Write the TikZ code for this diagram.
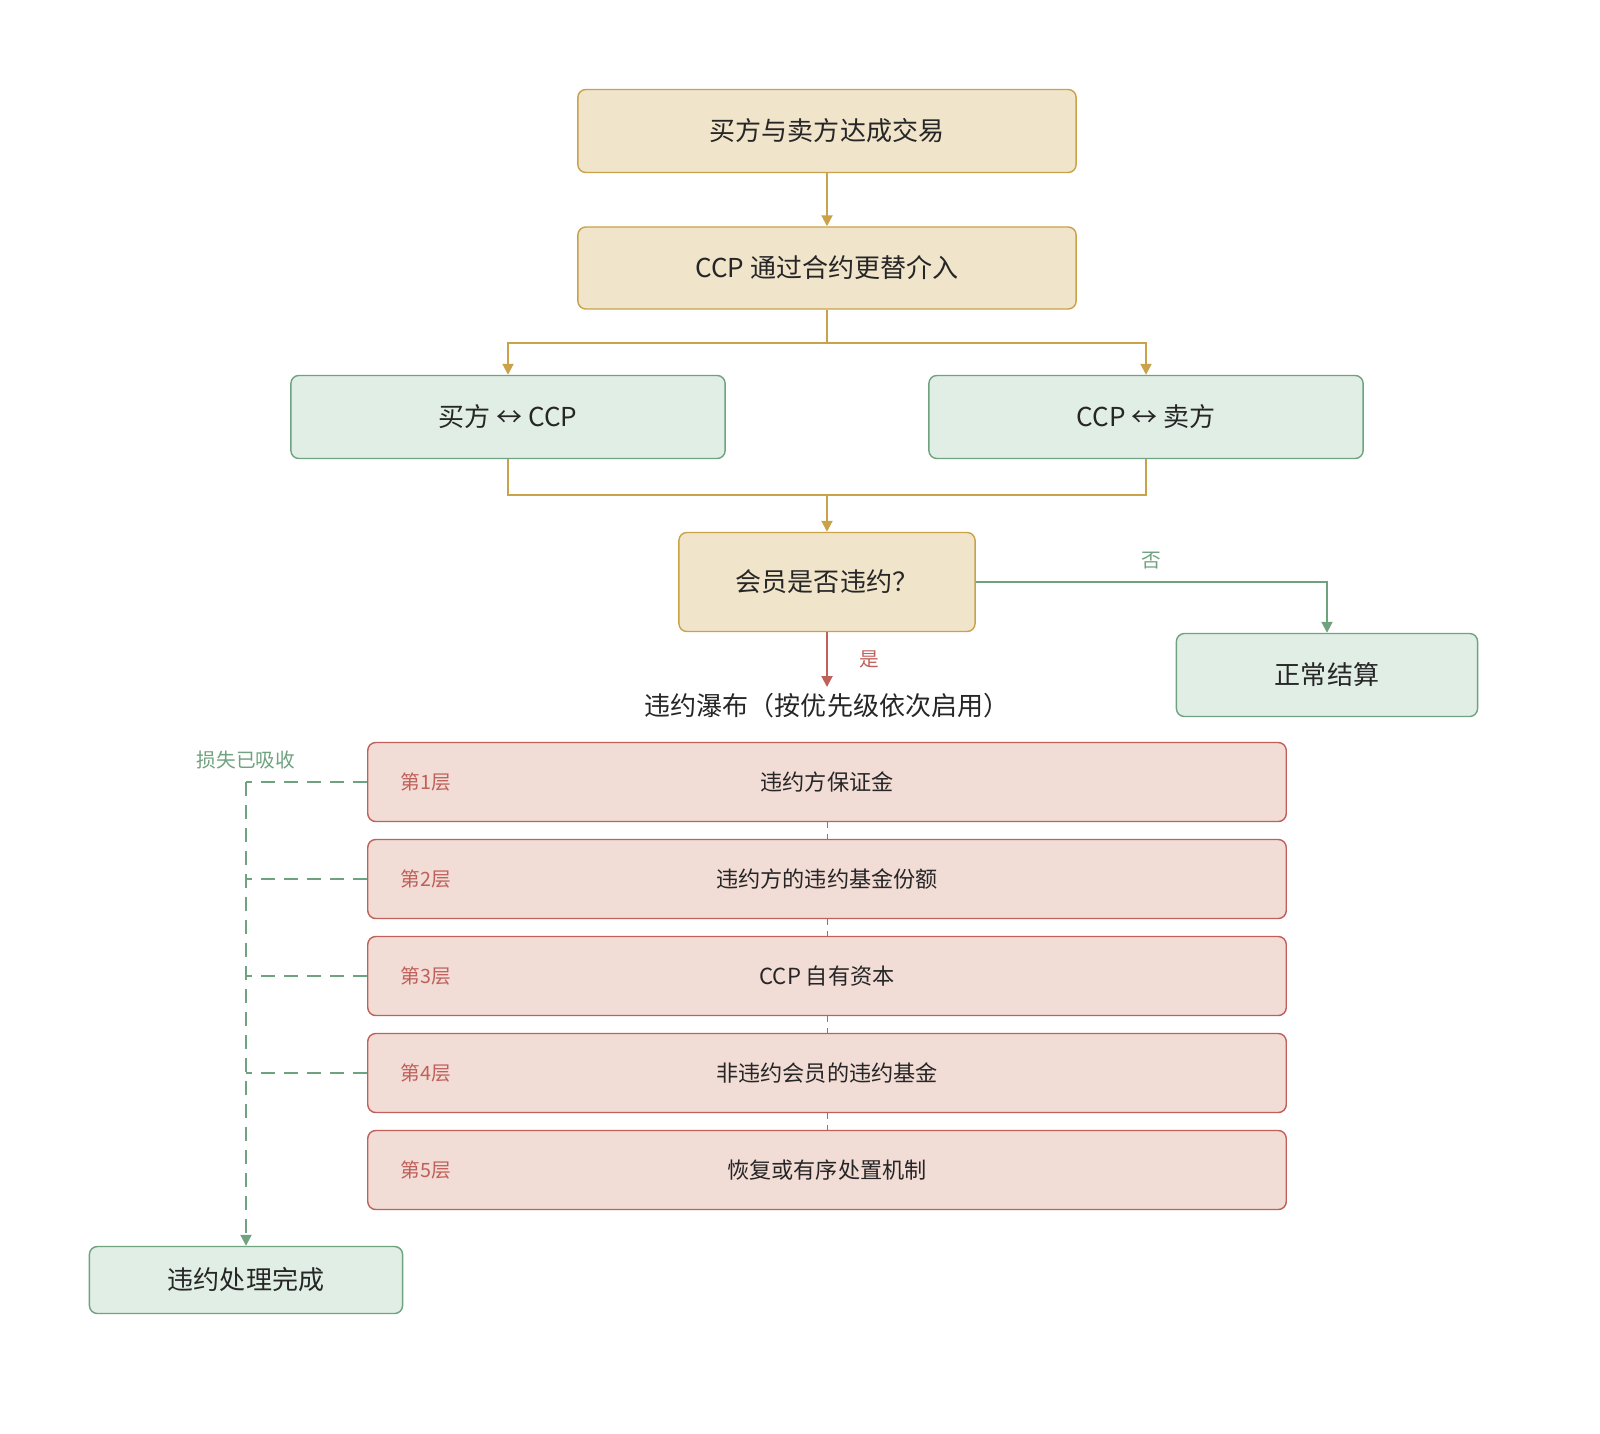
\documentclass[tikz,border=0pt]{standalone}
\usepackage{fontspec}
\setmainfont{Noto Sans CJK SC}
\usepackage{xcolor}
\usetikzlibrary{arrows.meta,positioning,calc}
\definecolor{beigefill}{HTML}{F0E4CA}
\definecolor{beigedraw}{HTML}{C9A24A}
\definecolor{greenfill}{HTML}{E1EEE5}
\definecolor{greendraw}{HTML}{6FA27F}
\definecolor{redfill}{HTML}{F2DCD6}
\definecolor{reddraw}{HTML}{C0605A}
\begin{document}
\begin{tikzpicture}
  [
  x=0.01cm,y=-0.01cm,
  stage/.style={rectangle,rounded corners=0.08cm,draw=beigedraw,fill=beigefill,thin,inner sep=0pt,font=\fontsize{7.4}{9}\selectfont,text=black!85},
  leg/.style={rectangle,rounded corners=0.08cm,draw=greendraw,fill=greenfill,thin,inner sep=0pt,font=\fontsize{7.4}{9}\selectfont,text=black!85},
  layer/.style={rectangle,rounded corners=0.08cm,draw=reddraw,fill=redfill,thin,inner sep=0pt,minimum width=9.18cm,minimum height=0.79cm,font=\fontsize{6.3}{8}\selectfont,text=black!85},
  tag/.style={font=\fontsize{5.6}{7}\selectfont,text=reddraw},
  flow/.style={->,draw=beigedraw,semithick,>={Triangle[length=1.1mm,width=1.1mm]}},
  greendash/.style={draw=greendraw,semithick,dash pattern=on 1.4mm off 0.9mm},
  absorbed/.style={->,greendash,>={Triangle[length=1.1mm,width=1.1mm]}}
  ]
  \useasboundingbox (0,0) rectangle (1600,1433);
  \node[stage,minimum width=4.98cm,minimum height=0.83cm] (trade) at (827,131) {买方与卖方达成交易};
  \node[stage,minimum width=4.98cm,minimum height=0.82cm] (novation) at (827,268) {CCP 通过合约更替介入};
  \node[leg,minimum width=4.34cm,minimum height=0.83cm] (buyer) at (508,417) {买方 ↔ CCP};
  \node[leg,minimum width=4.34cm,minimum height=0.83cm] (seller) at (1146,417) {CCP ↔ 卖方};
  \node[stage,minimum width=2.96cm,minimum height=0.99cm] (default) at (827,582) {会员是否违约？};
  \node[leg,minimum width=3.01cm,minimum height=0.83cm] (normal) at (1327,675) {正常结算};
  \node[font=\fontsize{7.4}{9}\selectfont,text=black!85] (waterfall) at (827,706) {违约瀑布（按优先级依次启用）};
  % layers
  \foreach \i/\y/\txt in {1/782/违约方保证金,2/879/违约方的违约基金份额,3/976/CCP 自有资本,4/1073/非违约会员的违约基金,5/1170/恢复或有序处置机制}{
    \node[layer] (layer\i) at (827,\y) {\txt};
    \node[tag,anchor=west] at (388,\y) {第\i 层};
  }
  \node[leg,minimum width=3.13cm,minimum height=0.67cm] (done) at (246,1280) {违约处理完成};
  % connectors
  \draw[flow] (trade) -- (novation);
  \draw[flow] (novation.south) -- ++(0,33) -| (buyer.north);
  \draw[flow] (novation.south) -- ++(0,33) -| (seller.north);
  \draw[beigedraw,semithick] (buyer.south) |- (827,495);
  \draw[beigedraw,semithick] (seller.south) |- (827,495);
  \draw[flow] (827,495) -- (default.north);
  \draw[flow,draw=greendraw] (default.east) -| node[pos=0.25,above,font=\fontsize{5.6}{7}\selectfont,text=greendraw] {否} (normal.north);
  \draw[flow,draw=reddraw] (default.south) -- node[right=0.2cm,font=\fontsize{5.6}{7}\selectfont,text=reddraw] {是} (827,687);
  \foreach \a/\b in {1/2,2/3,3/4,4/5}
    \draw[reddraw,very thin,dash pattern=on 0.6mm off 0.6mm] (layer\a.south) -- (layer\b.north);
  \foreach \i in {1,...,4}
    \draw[greendash] (layer\i.west) -- (layer\i.west -| done.north);
  \draw[absorbed] (246,782) -- (done.north);
  \node[font=\fontsize{5.6}{7}\selectfont,text=greendraw] at (246,760) {损失已吸收};
\end{tikzpicture}
\end{document}
